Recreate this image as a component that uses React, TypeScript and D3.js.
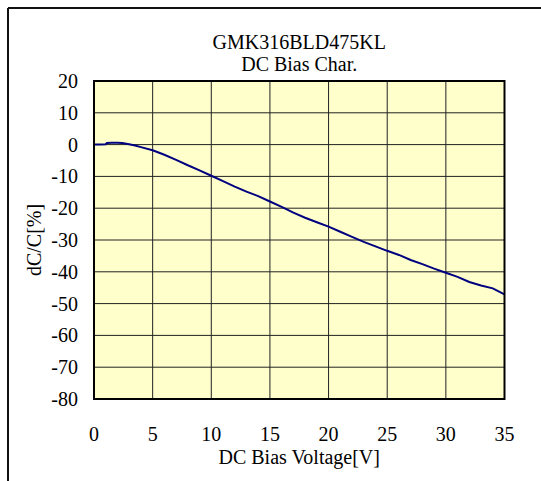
import React from "react";
import * as d3 from "d3";

const titleLines = ["GMK316BLD475KL", "DC Bias Char."];
const xLabel = "DC Bias Voltage[V]";
const yLabel = "dC/C[%]";
const xTicks = [0, 5, 10, 15, 20, 25, 30, 35];
const yTicks = [20, 10, 0, -10, -20, -30, -40, -50, -60, -70, -80];
const voltage = [0, 0.5, 1, 1.1, 1.5, 2, 2.4, 3, 3.5, 4, 5, 6, 7, 8, 9, 10, 11, 12, 13, 14, 15, 16, 17, 18, 19, 20, 21, 22, 23, 24, 25, 26, 27, 28, 29, 30, 31, 32, 33, 34, 35];
const dcdc = [0, 0, 0.1, 0.5, 0.6, 0.6, 0.5, 0.1, -0.3, -0.8, -1.8, -3.2, -4.8, -6.5, -8.1, -9.8, -11.5, -13.2, -14.8, -16.2, -17.9, -19.6, -21.4, -23.0, -24.4, -25.8, -27.4, -29.0, -30.6, -32.0, -33.4, -34.7, -36.3, -37.6, -39.0, -40.3, -41.6, -43.2, -44.3, -45.2, -47.1];

const W = 541, H = 481;
const L = 94, R = 504.5, T = 81, B = 399;
const FONT = "'Liberation Serif', 'Times New Roman', serif";

export default function App() {
  const x = d3.scaleLinear().domain([0, 35]).range([L, R]);
  const y = d3.scaleLinear().domain([-80, 20]).range([B, T]);
  const line = d3.line<number>().x((_, i) => x(voltage[i])).y((d) => y(d));
  const pts = dcdc;
  return (
    <svg width={W} height={H} style={{ position: "absolute", left: 0, top: 0 }} fontFamily={FONT}>
      <rect x={0} y={0} width={W} height={H} fill="#fff" />
      {/* outer frame (top and left) */}
      <line x1={8} y1={8} x2={W} y2={8} stroke="#111" strokeWidth={2} />
      <line x1={8} y1={8} x2={8} y2={H} stroke="#111" strokeWidth={2} />
      {titleLines.map((t, i) => (
        <text key={t} x={(L + R) / 2} y={49 + i * 22} textAnchor="middle" fontSize={20} fill="#000">{t}</text>
      ))}
      <rect x={L} y={T} width={R - L} height={B - T} fill="#FFFFCC" />
      {xTicks.slice(1, -1).map((v) => (
        <line key={"gx" + v} x1={x(v)} x2={x(v)} y1={T} y2={B} stroke="#222" strokeWidth={1} />
      ))}
      {yTicks.slice(1, -1).map((v) => (
        <line key={"gy" + v} x1={L} x2={R} y1={y(v)} y2={y(v)} stroke="#222" strokeWidth={1} />
      ))}
      <path d={line(pts) || ""} fill="none" stroke="#000080" strokeWidth={2} />
      <rect x={L} y={T} width={R - L} height={B - T} fill="none" stroke="#000" strokeWidth={2} />
      {yTicks.map((v) => (
        <text key={"ty" + v} x={78} y={y(v) + 7} textAnchor="end" fontSize={20} fill="#000">{v}</text>
      ))}
      {xTicks.map((v) => (
        <text key={"tx" + v} x={x(v)} y={441} textAnchor="middle" fontSize={20} fill="#000">{v}</text>
      ))}
      <text x={(L + R) / 2} y={464} textAnchor="middle" fontSize={20} fill="#000">{xLabel}</text>
      <text transform={`translate(41, ${(T + B) / 2}) rotate(-90)`} textAnchor="middle" fontSize={20} fill="#000">{yLabel}</text>
    </svg>
  );
}
